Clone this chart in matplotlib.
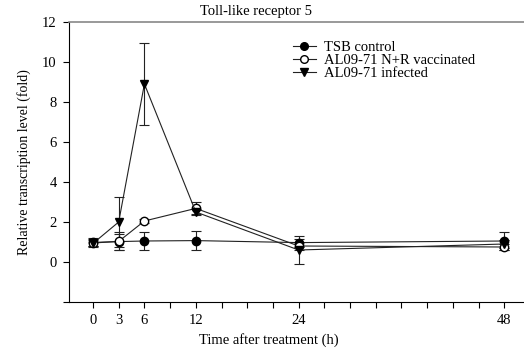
import matplotlib.pyplot as plt
from matplotlib.lines import Line2D
import numpy as np

plt.rcParams['font.family'] = ['Liberation Serif', 'DejaVu Serif']

hours = [0, 3, 6, 12, 24, 48]
tsb_mean = [0.98, 1.02, 1.05, 1.07, 0.97, 1.05]
tsb_err = [0.2, 0.4, 0.47, 0.47, 0.2, 0.45]
vacc_mean = [0.95, 1.03, 2.05, 2.68, 0.8, 0.75]
vacc_err = [0.15, 0.45, 0.12, 0.3, 0.2, 0.15]
inf_mean = [0.93, 2.0, 8.9, 2.5, 0.6, 0.9]
inf_err = [0.2, 1.25, 2.03, 0.15, 0.7, 0.2]

labels = ['TSB control', 'AL09-71 N+R vaccinated', 'AL09-71 infected']
markers = ['o', 'o', 'v']
faces = ['black', 'white', 'black']

fig = plt.figure(figsize=(5.24, 3.5), dpi=100)
ax = fig.add_axes([69/524, 48/350, 455/524, 280/350])

common = dict(color='#222222', lw=0.8, ecolor='#222222', elinewidth=0.8,
              capsize=3.5, capthick=0.8, markersize=6, mec='black')
for m, e, mk, fc in zip([tsb_mean, vacc_mean, inf_mean],
                        [tsb_err, vacc_err, inf_err], markers, faces):
    ax.errorbar(hours, m, yerr=e, marker=mk, mfc=fc, **common)

ax.set_xlim(-2.8, 50.3)
ax.set_ylim(-2, 12)

xt = np.arange(0, 49, 3)
ax.set_xticks(xt)
ax.set_xticklabels([str(t) if t in hours else '' for t in xt])
yt = np.arange(-2, 13, 2)
ax.set_yticks(yt)
ax.set_yticklabels(['' if v < 0 else str(v) for v in yt])
ax.tick_params(labelsize=10.5, length=4, width=0.8, direction='out', pad=5)

ax.spines['right'].set_visible(False)
ax.spines['top'].set_color('#888888')
ax.spines['top'].set_linewidth(1.2)

ax.set_xlabel('Time after treatment (h)', fontsize=10.5, labelpad=0)
ax.xaxis.set_label_coords(0.44, -0.11)
ax.set_ylabel('Relative transcription level (fold)', fontsize=10, labelpad=8)
ax.text(0.41, 1.015, 'Toll-like receptor 5', transform=ax.transAxes,
        ha='center', va='bottom', fontsize=10.5)

handles = [Line2D([], [], color='#222222', lw=0.8, marker=mk, mfc=fc, mec='black',
                  markersize=5.5) for mk, fc in zip(markers, faces)]
ax.legend(handles, labels, loc='upper left', bbox_to_anchor=(0.479, 0.955),
          frameon=False, fontsize=10.5, handlelength=1.6, handletextpad=0.55,
          labelspacing=0.0, borderaxespad=0)

fig.savefig('out.png', dpi=100)
